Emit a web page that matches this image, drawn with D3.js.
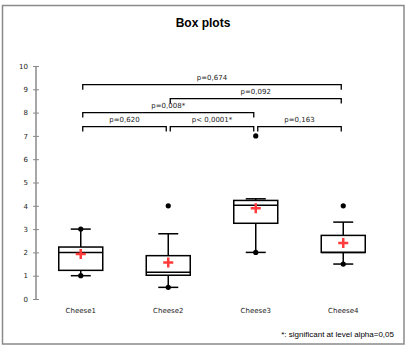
<!DOCTYPE html>
<html>
<head>
<meta charset="utf-8">
<script src="https://cdn.jsdelivr.net/npm/d3@7/dist/d3.min.js"></script>
<style>
  body { margin: 0; background: #fff; }
  svg { display: block; }
</style>
</head>
<body>
<svg id="chart" width="407" height="352"></svg>
<script>
// values
var categories = ["Cheese1", "Cheese2", "Cheese3", "Cheese4"];
var lowWhisker = [1.0, 0.5, 2.0, 1.5];
var q1 = [1.23, 1.02, 3.25, 2.0];
var median = [2.0, 1.15, 4.02, 2.0];
var q3 = [2.23, 1.86, 4.23, 2.73];
var highWhisker = [3.0, 2.8, 4.3, 3.3];
var means = [1.93, 1.57, 3.9, 2.4];
var minima = [1.0, 0.5, 2.0, 1.5];
var maxima = [3.0, 4.0, 7.0, 4.0];
var yTicks = [0, 1, 2, 3, 4, 5, 6, 7, 8, 9, 10];

// pairwise comparisons: from, to, label, level (y units)
var pairFrom = [0, 1, 2, 0, 1, 0];
var pairTo = [1, 2, 3, 2, 3, 3];
var pairLabel = ["p=0,620", "p< 0,0001*", "p=0,163", "p=0,008*", "p=0,092", "p=0,674"];
var pairLevel = [7.4, 7.4, 7.4, 8.0, 8.6, 9.2];

var svg = d3.select("#chart");

// outer frame
svg.append("rect")
  .attr("x", 2.5).attr("y", 5.5)
  .attr("width", 401.5).attr("height", 338.5)
  .attr("fill", "none").attr("stroke", "#8a8a8a").attr("stroke-width", 1.5);

svg.append("text")
  .attr("x", 203).attr("y", 27)
  .attr("text-anchor", "middle")
  .style("font-family", "'Liberation Sans', Arial, sans-serif")
  .style("font-size", "12px").style("font-weight", "bold")
  .text("Box plots");

var x = d3.scaleBand().domain(categories).range([37, 387]);
var y = d3.scaleLinear().domain([0, 10]).range([299, 66]);
var cx = function(i) { return x(categories[i]) + x.bandwidth() / 2; };

// y axis
var yAxis = svg.append("g")
  .attr("transform", "translate(36,0)")
  .call(d3.axisLeft(y).tickValues(yTicks).tickSize(3).tickPadding(5));
yAxis.select(".domain").attr("stroke", "#8a8a8a").attr("stroke-width", 1.5)
  .attr("d", "M0," + y(10) + "V" + y(0));
yAxis.selectAll(".tick line").attr("x1", -3).attr("x2", 3).attr("stroke", "#8a8a8a");
yAxis.selectAll(".tick text")
  .attr("fill", "#222")
  .style("font-family", "'DejaVu Sans', Verdana, sans-serif")
  .style("font-size", "7px");

// category labels
svg.selectAll(".cat")
  .data(categories).enter().append("text")
  .attr("x", function(d, i) { return cx(i); })
  .attr("y", 313)
  .attr("text-anchor", "middle")
  .attr("fill", "#222")
  .style("font-family", "'DejaVu Sans', Verdana, sans-serif")
  .style("font-size", "7px")
  .text(function(d) { return d; });

// boxes
var boxW = 22, capW = 10;
var g = svg.selectAll(".box")
  .data(categories).enter().append("g")
  .attr("fill", "none").attr("stroke", "#000").attr("stroke-width", 1.5);

g.append("line")
  .attr("x1", function(d, i) { return cx(i); }).attr("x2", function(d, i) { return cx(i); })
  .attr("y1", function(d, i) { return y(lowWhisker[i]); })
  .attr("y2", function(d, i) { return y(q1[i]); });
g.append("line")
  .attr("x1", function(d, i) { return cx(i); }).attr("x2", function(d, i) { return cx(i); })
  .attr("y1", function(d, i) { return y(q3[i]); })
  .attr("y2", function(d, i) { return y(highWhisker[i]); });
g.append("line")
  .attr("x1", function(d, i) { return cx(i) - capW; }).attr("x2", function(d, i) { return cx(i) + capW; })
  .attr("y1", function(d, i) { return y(lowWhisker[i]); })
  .attr("y2", function(d, i) { return y(lowWhisker[i]); });
g.append("line")
  .attr("x1", function(d, i) { return cx(i) - capW; }).attr("x2", function(d, i) { return cx(i) + capW; })
  .attr("y1", function(d, i) { return y(highWhisker[i]); })
  .attr("y2", function(d, i) { return y(highWhisker[i]); });
g.append("rect")
  .attr("x", function(d, i) { return cx(i) - boxW; })
  .attr("width", boxW * 2)
  .attr("y", function(d, i) { return y(q3[i]); })
  .attr("height", function(d, i) { return y(q1[i]) - y(q3[i]); })
  .attr("fill", "#fff");
g.append("line")
  .attr("x1", function(d, i) { return cx(i) - boxW; }).attr("x2", function(d, i) { return cx(i) + boxW; })
  .attr("y1", function(d, i) { return y(median[i]); })
  .attr("y2", function(d, i) { return y(median[i]); });

// min / max dots
categories.forEach(function(c, i) {
  [minima[i], maxima[i]].forEach(function(v) {
    svg.append("circle")
      .attr("cx", cx(i)).attr("cy", y(v)).attr("r", 2.6)
      .attr("fill", "#000");
  });
});

// mean crosses
svg.selectAll(".mean")
  .data(means).enter().append("path")
  .attr("d", function(d, i) {
    var px = cx(i), py = y(d);
    return "M" + (px - 5) + "," + py + "H" + (px + 5) + "M" + px + "," + (py - 5) + "V" + (py + 5);
  })
  .attr("stroke", "#ff3b3b").attr("stroke-width", 2.5).attr("fill", "none");

// comparison brackets
pairLabel.forEach(function(lab, k) {
  var x1 = cx(pairFrom[k]) + 2, x2 = cx(pairTo[k]) - 2, ly = y(pairLevel[k]);
  svg.append("path")
    .attr("d", "M" + x1 + "," + (ly + 5) + "V" + ly + "H" + x2 + "V" + (ly + 5))
    .attr("fill", "none").attr("stroke", "#000").attr("stroke-width", 1.3);
  svg.append("text")
    .attr("x", (x1 + x2) / 2).attr("y", ly - 5)
    .attr("text-anchor", "middle")
    .attr("fill", "#222")
    .style("font-family", "'DejaVu Sans', Verdana, sans-serif")
    .style("font-size", "7px")
    .text(lab);
});

svg.append("text")
  .attr("x", 394).attr("y", 337)
  .attr("text-anchor", "end")
  .attr("fill", "#000")
  .style("font-family", "'Liberation Sans', Arial, sans-serif")
  .style("font-size", "8px")
  .text("*: significant at level alpha=0,05");
</script>
</body>
</html>
